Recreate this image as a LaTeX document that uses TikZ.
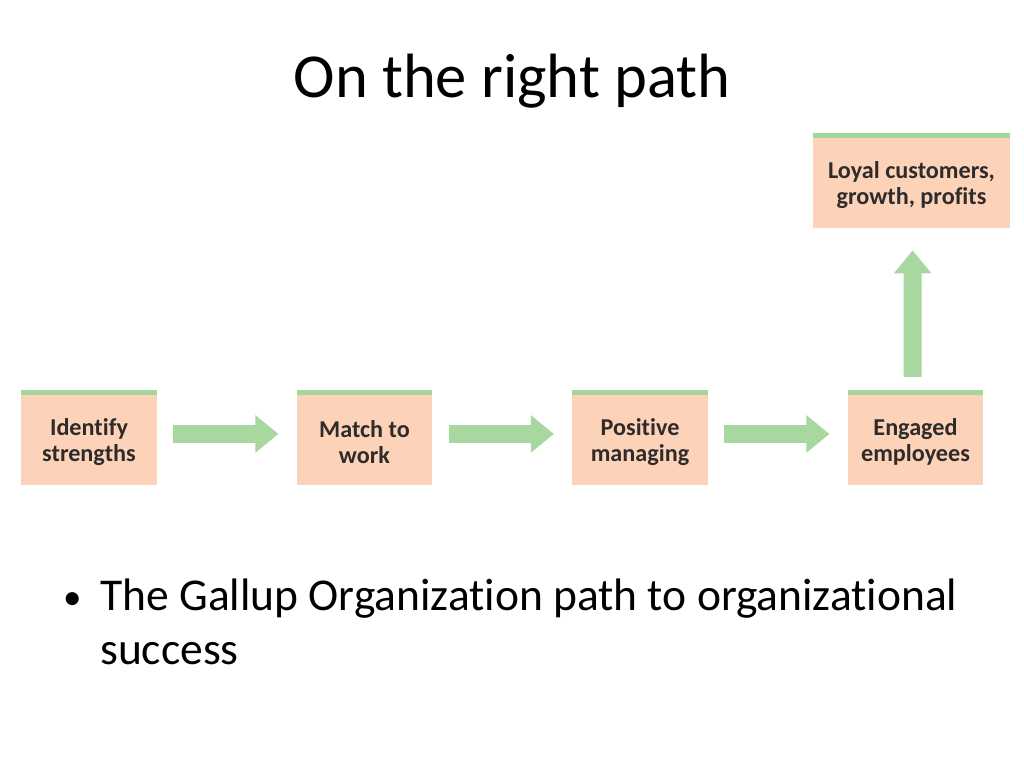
\documentclass[tikz,border=0pt]{standalone}
\usepackage{fontspec}
\setmainfont{Carlito}[Ligatures={NoCommon}]
\usepackage{tikz}
\usetikzlibrary{arrows.meta}

\definecolor{boxpeach}{HTML}{FCD3B8}
\definecolor{stripgreen}{HTML}{A6D59B}
\definecolor{arrowgreen}{HTML}{A8D8A0}
\definecolor{boxtext}{HTML}{2E2B2A}

% lifts the first line of a box a little lower
\newcommand{\lift}{\rule{0pt}{18pt}}

\tikzset{
  stepbox/.style={fill=boxpeach, minimum height=66.8pt, inner sep=0pt,
    align=center, text=boxtext, font=\fontsize{17}{18.3}\selectfont\bfseries,
    path picture={\fill[stripgreen] (path picture bounding box.north west)
      rectangle ([yshift=-3.5pt]path picture bounding box.north east);}},
  flow/.style={draw=arrowgreen, line width=12.7pt,
    -{Triangle[width=25.3pt,length=16.2pt]}}
}

\begin{document}
\begin{tikzpicture}[x=0.703125pt, y=-0.703125pt]
    \useasboundingbox (0,0) rectangle (1024,768);
    % Title and bullet text
    \node[font=\fontsize{44}{53}\selectfont] (title) at (512,81) {On the right path};
    \node[anchor=west, font=\fontsize{26}{30}\selectfont] (dot) at (58,601) {•};
    \node[anchor=north west, align=left, inner sep=0pt,
      font=\fontsize{32}{38}\selectfont] (bullet) at (100,579)
      {The Gallup Organization path to organizational\\success};

    % Define the steps
    \node[stepbox, minimum width=95.6pt] (identify) at (89,437.5) {\lift Identify\\strengths};
    \node[stepbox, minimum width=95.6pt] (match) at (364.5,437.5) {\lift Match to\\work};
    \node[stepbox, minimum width=95.6pt] (positive) at (640,437.5) {\lift Positive\\managing};
    \node[stepbox, minimum width=95.6pt] (engaged) at (915.5,437.5) {\lift Engaged\\employees};
    \node[stepbox, minimum width=138.5pt] (loyal) at (911.5,180.5) {\lift Loyal customers,\\growth, profits};

    % Draw arrows
    \foreach \from/\to in {identify/match, match/positive, positive/engaged} {
        \draw[flow, shorten <=11.2pt, shorten >=12.5pt]
          ([yshift=2.5pt]\from.east) -- ([yshift=2.5pt]\to.west);
    }
    \draw[flow, shorten <=9.1pt, shorten >=15.5pt] ([xshift=-2pt]engaged.north) -- ([xshift=0.8pt]loyal.south);
\end{tikzpicture}
\end{document}
